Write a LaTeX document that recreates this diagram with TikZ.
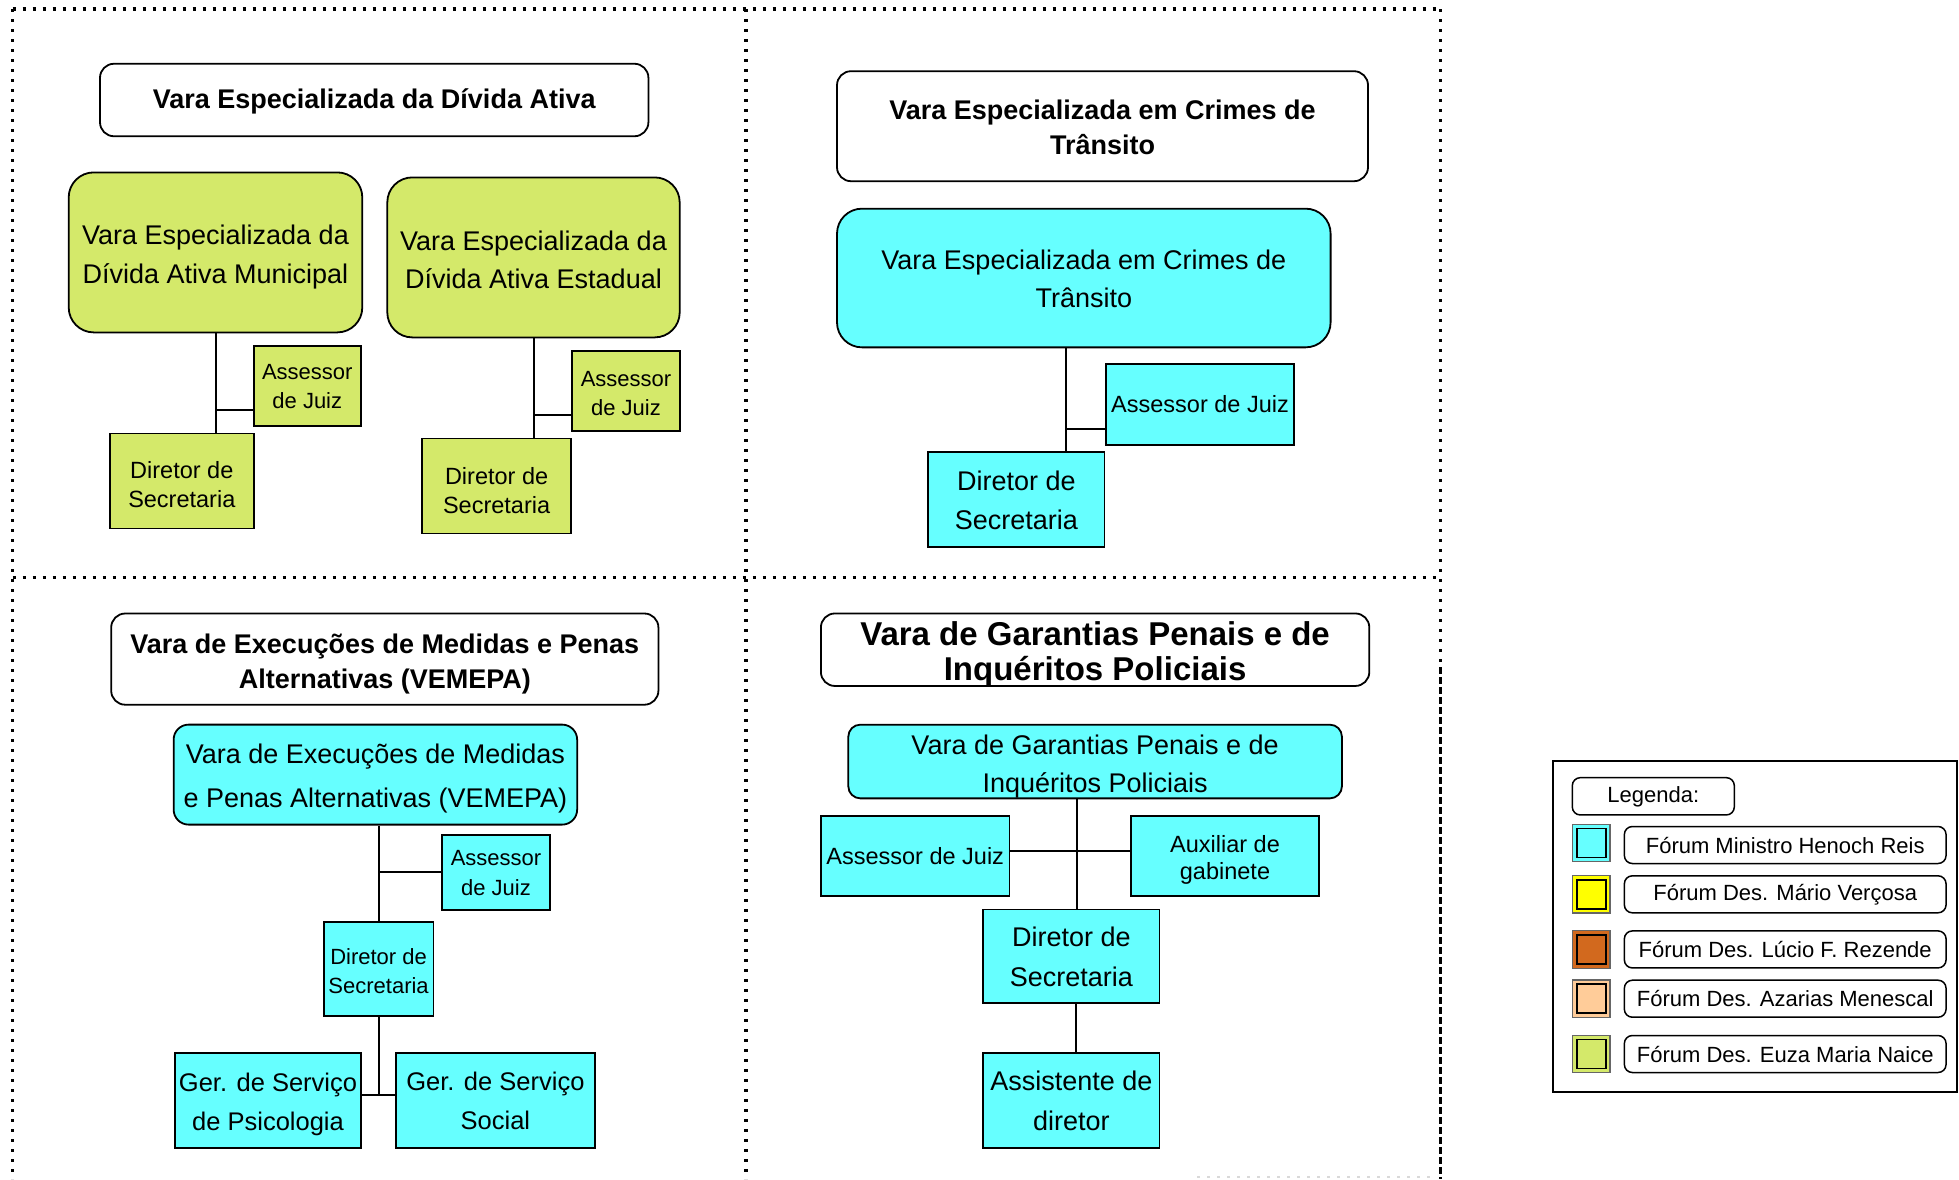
\documentclass[tikz,border=0pt]{standalone}
\usepackage{fontspec}
\setmainfont{Liberation Sans}
\usetikzlibrary{calc}
\definecolor{vgreen}{HTML}{D4E96A}
\definecolor{vcyan}{HTML}{66FFFF}
\definecolor{vyellow}{HTML}{FFFF00}
\definecolor{vbrown}{HTML}{D2691E}
\definecolor{vpeach}{HTML}{FFCC99}
\begin{document}
\begin{tikzpicture}[x=1pt,y=-1pt,
  box/.style={draw=black, line width=1.8pt, inner sep=0pt, align=center},
  txt/.style={inner sep=0pt, align=center},
  tbox/.style={box, fill=white, rounded corners=14pt},
  tfont/.style={font={\fontsize{27}{35}\selectfont\bfseries}},
  gbox/.style={box, fill=vgreen},
  cbox/.style={box, fill=vcyan},
  conn/.style={line width=2pt},
  framel/.style={line width=3.2pt, dash pattern=on 3.2pt off 6.8pt},
  framed/.style={line width=3.2pt, dash pattern=on 6.5pt off 3.5pt},
  lsq/.style={draw=black!60, line width=1.2pt, minimum width=37.5pt, minimum height=37.5pt, inner sep=0pt},
  lsqin/.style={draw=black, line width=1.6pt, minimum width=29pt, minimum height=29pt, inner sep=0pt},
  lbox/.style={box, line width=1.5pt, fill=white, rounded corners=8pt, minimum width=321.7pt, minimum height=37pt, font={\fontsize{22}{26}\selectfont}},
]
\fill[white] (0,0) rectangle (1959,1179);
\useasboundingbox (0,0) rectangle (1959,1179);

% dotted frame
\draw[framel] (12.5,9) -- (1440.5,9);
\draw[framel] (12.5,9) -- (12.5,1179);
\draw[framel] (746,9) -- (746,1179);
\draw[framel] (1440.5,9) -- (1440.5,667);
\draw[framed] (1440.5,667) -- (1440.5,1179);
\draw[framel] (12.5,577.5) -- (1440.5,577.5);
\draw[line width=2.5pt, gray!30, dash pattern=on 3pt off 7pt] (1197,1177) -- (1436,1177);

% ---------- top-left ----------
\node[tbox, tfont, minimum width=548.4pt, minimum height=72.5pt] (T1) at (374.2,100) {};
\node[txt, tfont] (T1t) at ([yshift=-1pt]T1.center) {Vara Especializada da Dívida Ativa};
\node[gbox, rounded corners=25pt, minimum width=293.6pt, minimum height=160pt] (GM) at (215.5,252.4) {};
\node[txt, font={\fontsize{27}{39}\selectfont}] (GMt) at ([yshift=-5pt]GM.center) {Vara Especializada da\\Dívida Ativa Municipal};
\node[gbox, rounded corners=25pt, minimum width=292.4pt, minimum height=160pt] (GE) at (533.5,257.4) {};
\node[txt, font={\fontsize{27}{38}\selectfont}] (GEt) at ([yshift=-2.5pt]GE.center) {Vara Especializada da\\Dívida Ativa Estadual};
\node[gbox, minimum width=107.4pt, minimum height=80pt] (AM) at (307.3,386) {};
\node[txt, font={\fontsize{22}{29}\selectfont}] (AMt) at ([yshift=-1pt]AM.center) {Assessor\\de Juiz};
\node[gbox, minimum width=143.6pt, minimum height=95pt] (DM) at (181.8,481) {};
\node[txt, font={\fontsize{23.5}{29}\selectfont}] (DMt) at ([yshift=-4pt]DM.center) {Diretor de\\Secretaria};
\node[gbox, minimum width=107.5pt, minimum height=80pt] (AE) at (626,391) {};
\node[txt, font={\fontsize{22}{29}\selectfont}] (AEt) at ([yshift=-2.5pt]AE.center) {Assessor\\de Juiz};
\node[gbox, minimum width=148.7pt, minimum height=95pt] (DE) at (496.6,486) {};
\node[txt, font={\fontsize{23.5}{29}\selectfont}] (DEt) at ([yshift=-5pt]DE.center) {Diretor de\\Secretaria};
\draw[conn] (GM.south) -- (GM.south |- DM.north);
\coordinate (hM) at (215.5,409.8);
\draw[conn] (hM) -- (hM -| AM.west);
\draw[conn] (GE.south) -- (GE.south |- DE.north);
\coordinate (hE) at (533.5,414.8);
\draw[conn] (hE) -- (hE -| AE.west);

% ---------- top-right ----------
\node[tbox, minimum width=531pt, minimum height=110pt] (T2) at (1102.5,126.2) {};
\node[txt, tfont] (T2t) at ([yshift=-1pt]T2.center) {Vara Especializada em Crimes de\\Trânsito};
\node[cbox, rounded corners=25pt, minimum width=493.6pt, minimum height=138.7pt] (CT) at (1083.8,278) {};
\node[txt, font={\fontsize{27}{37.5}\selectfont}] (CTt) at ([yshift=-1pt]CT.center) {Vara Especializada em Crimes de\\Trânsito};
\node[cbox, minimum width=176.2pt, minimum height=95pt] (DT) at (1016.4,499.8) {};
\node[txt, font={\fontsize{27}{39}\selectfont}] (DTt) at ([yshift=-1pt]DT.center) {Diretor de\\Secretaria};
\node[cbox, minimum width=188.7pt, minimum height=81.2pt] (AT) at (1200,404.2) {};
\node[txt, font={\fontsize{23.5}{29}\selectfont}] (ATt) at (AT.center) {Assessor de Juiz};
\coordinate (vT) at (1065.7,347.3);
\draw[conn] (vT) -- (vT |- DT.north);
\coordinate (hT) at (1065.7,428.5);
\draw[conn] (hT) -- (hT -| AT.west);

% ---------- bottom-left ----------
\node[tbox, minimum width=547.2pt, minimum height=91.2pt] (T3) at (384.8,659.1) {};
\node[txt, tfont] (T3t) at ([yshift=-5pt]T3.center) {Vara de Execuções de Medidas e Penas\\Alternativas (VEMEPA)};
\node[cbox, rounded corners=15pt, minimum width=403.5pt, minimum height=100pt] (CV) at (375.4,774.6) {};
\node[txt, font={\fontsize{27}{44}\selectfont}] (CVt) at ([yshift=-4pt]CV.center) {Vara de Execuções de Medidas\\e Penas Alternativas (VEMEPA)};
\node[cbox, minimum width=107.4pt, minimum height=75pt] (AV) at (496,872.1) {};
\node[txt, font={\fontsize{22}{30}\selectfont}] (AVt) at ([yshift=-1pt]AV.center) {Assessor\\de Juiz};
\node[cbox, minimum width=109.9pt, minimum height=93.7pt] (DV) at (378.6,969) {};
\node[txt, font={\fontsize{22}{29}\selectfont}] (DVt) at ([yshift=-2pt]DV.center) {Diretor de\\Secretaria};
\node[cbox, minimum width=186.2pt, minimum height=95pt] (GP) at (268,1100.7) {};
\node[txt, font={\fontsize{25.5}{38.7}\selectfont}] (GPt) at ([yshift=-4pt]GP.center) {Ger. de Serviço\\de Psicologia};
\node[cbox, minimum width=198.7pt, minimum height=95pt] (GS) at (495.4,1100.7) {};
\node[txt, font={\fontsize{25.5}{38.7}\selectfont}] (GSt) at (GS.center) {Ger. de Serviço\\Social};
\draw[conn] (DV.north |- CV.south) -- (DV.north);
\draw[conn] (DV.north |- AV.west) -- (AV.west);
\coordinate (hV) at (378.6,1094.5);
\draw[conn] (DV.south) -- (hV);
\draw[conn] (hV -| GP.east) -- (hV -| GS.west);

% ---------- bottom-right ----------
\node[tbox, minimum width=548.4pt, minimum height=72.5pt] (T4) at (1095.1,649.7) {};
\node[txt, font={\fontsize{33}{35}\selectfont\bfseries}] (T4t) at ([yshift=-5pt]T4.center) {Vara de Garantias Penais e de\\Inquéritos Policiais};
\node[cbox, rounded corners=12pt, minimum width=493.6pt, minimum height=73.7pt] (CG) at (1095.1,761.5) {};
\node[txt, font={\fontsize{27}{37.5}\selectfont}] (CGt) at ([yshift=-5pt]CG.center) {Vara de Garantias Penais e de\\Inquéritos Policiais};
\node[cbox, minimum width=188.6pt, minimum height=80pt] (AG) at (915.2,855.8) {};
\node[txt, font={\fontsize{23.5}{29}\selectfont}] (AGt) at (AG.center) {Assessor de Juiz};
\node[cbox, minimum width=188.7pt, minimum height=80pt] (XG) at (1225,855.8) {};
\node[txt, font={\fontsize{23.5}{27.5}\selectfont}] (XGt) at ([yshift=-4pt]XG.center) {Auxiliar de\\gabinete};
\node[cbox, minimum width=176.1pt, minimum height=93.7pt] (DG) at (1071.4,956.4) {};
\node[txt, font={\fontsize{27}{40}\selectfont}] (DGt) at (DG.center) {Diretor de\\Secretaria};
\node[cbox, minimum width=176.1pt, minimum height=95pt] (SG) at (1071.4,1100.7) {};
\node[txt, font={\fontsize{27}{40}\selectfont}] (SGt) at (SG.center) {Assistente de\\diretor};
\coordinate (vG) at (1077,798.4);
\draw[conn] (vG) -- (vG |- DG.north);
\coordinate (hG) at (1077,850.8);
\draw[conn] (hG -| AG.east) -- (hG -| XG.west);
\coordinate (vG2) at (1075.7,1003.3);
\draw[conn] (vG2) -- (vG2 |- SG.north);

% ---------- legend ----------
\node[draw=black, line width=2pt, minimum width=404pt, minimum height=330.4pt, inner sep=0pt] (LF) at (1755.3,926.5) {};
\node[lbox, minimum width=162pt, minimum height=37.3pt] (LG) at (1653.3,796.3) {Legenda:};
\node[lsq, fill=vcyan] (Q1) at (1591.3,843) {};
\node[lsqin, fill=vcyan] (Q1i) at (Q1) {};
\node[lsq, fill=vyellow] (Q2) at (1591.3,894.3) {};
\node[lsqin, fill=vyellow] (Q2i) at (Q2) {};
\node[lsq, fill=vbrown] (Q3) at (1591.3,949.5) {};
\node[lsqin, fill=vbrown] (Q3i) at (Q3) {};
\node[lsq, fill=vpeach] (Q4) at (1591.3,998.7) {};
\node[lsqin, fill=vpeach] (Q4i) at (Q4) {};
\node[lsq, fill=vgreen] (Q5) at (1591.3,1054) {};
\node[lsqin, fill=vgreen] (Q5i) at (Q5) {};
\node[lbox] (L1) at (1785.2,845) {Fórum Ministro Henoch Reis};
\node[lbox] (L2) at (1785.2,894.3) {Fórum Des. Mário Verçosa};
\node[lbox] (L3) at (1785.2,949.4) {Fórum Des. Lúcio F. Rezende};
\node[lbox] (L4) at (1785.2,998.7) {Fórum Des. Azarias Menescal};
\node[lbox] (L5) at (1785.2,1054) {Fórum Des. Euza Maria Naice};
\end{tikzpicture}
\end{document}
